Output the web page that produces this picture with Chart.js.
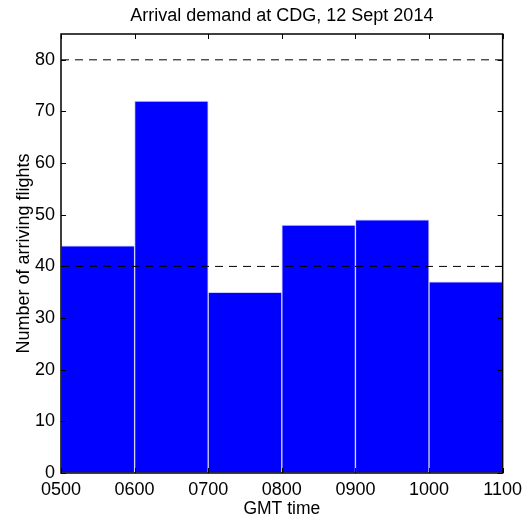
<!DOCTYPE html>
<html>
<head>
<meta charset="utf-8">
<script src="https://cdn.jsdelivr.net/npm/chart.js@4/dist/chart.umd.min.js"></script>
<style>
  body { margin: 0; background: #fff; }
</style>
</head>
<body>
<canvas id="chart" width="528" height="522"></canvas>
<script>
// hourly bins, GMT
const binStarts = [500, 600, 700, 800, 900, 1000]
const binSize = 100
const arrivals = [44, 72, 35, 48, 49, 37]
const capacityLevels = [40, 80]
const xTicks = [500, 600, 700, 800, 900, 1000, 1100]
const yTicks = [0, 10, 20, 30, 40, 50, 60, 70, 80]

const fontFamily = '"Liberation Sans", Arial, Helvetica, sans-serif'

const barData = binStarts.map((s, i) => ({ x: s + binSize / 2, y: arrivals[i] }))
const levelSets = capacityLevels.map(v => ({
    type: 'line',
    order: 0,
    data: [{ x: xTicks[0], y: v }, { x: xTicks[xTicks.length - 1], y: v }],
    borderColor: '#000',
    borderWidth: 1,
    borderDash: [8, 6],
    pointRadius: 0,
    fill: false
}))

// box round the plot with inward ticks, matlab style
const framePlugin = {
    id: 'frame',
    afterDraw(chart) {
        const ctx = chart.ctx
        const a = chart.chartArea
        const sx = chart.scales.x, sy = chart.scales.y
        ctx.save()
        ctx.strokeStyle = '#000'
        ctx.lineWidth = 1.5
        ctx.strokeRect(a.left, a.top, a.right - a.left, a.bottom - a.top)
        ctx.lineWidth = 1
        ctx.beginPath()
        xTicks.forEach(v => {
            const px = Math.round(sx.getPixelForValue(v)) + 0.5
            ctx.moveTo(px, a.bottom); ctx.lineTo(px, a.bottom - 5)
            ctx.moveTo(px, a.top); ctx.lineTo(px, a.top + 5)
        })
        yTicks.forEach(v => {
            const py = Math.round(sy.getPixelForValue(v)) + 0.5
            ctx.moveTo(a.left, py); ctx.lineTo(a.left + 5, py)
            ctx.moveTo(a.right, py); ctx.lineTo(a.right - 5, py)
        })
        ctx.stroke()
        ctx.restore()
    }
}

new Chart(document.getElementById('chart').getContext('2d'), {
    type: 'bar',
    data: {
        datasets: [{
            type: 'bar',
            order: 1,
            data: barData,
            backgroundColor: '#0000ff',
            borderColor: '#d0d0ff',
            borderWidth: 1,
            borderSkipped: false,
            barPercentage: 1,
            categoryPercentage: 1
        }].concat(levelSets)
    },
    options: {
        responsive: false,
        animation: false,
        layout: { padding: { right: 25, top: 0, bottom: 0, left: 0 } },
        plugins: { legend: { display: false }, tooltip: { enabled: false } },
        scales: {
            x: {
                type: 'linear',
                position: 'bottom',
                offset: false,
                min: 500,
                max: 1100,
                afterBuildTicks: s => { s.ticks = xTicks.map(v => ({ value: v })) },
                afterFit: s => { s.height = 49 },
                grid: { display: false, drawTicks: false },
                border: { display: false },
                ticks: {
                    color: '#000',
                    padding: 6,
                    maxRotation: 0,
                    autoSkip: false,
                    font: { family: fontFamily, size: 18 },
                    callback: v => String(v).padStart(4, '0')
                },
                title: {
                    display: true,
                    text: 'GMT time',
                    color: '#000',
                    padding: { top: 0, bottom: 2.5 },
                    font: { family: fontFamily, size: 17.5 }
                }
            },
            xTop: {
                type: 'linear',
                position: 'top',
                offset: false,
                min: 500,
                max: 1100,
                afterFit: s => { s.height = 34 },
                grid: { display: false, drawTicks: false },
                border: { display: false },
                ticks: { display: false },
                title: {
                    display: true,
                    text: 'Arrival demand at CDG, 12 Sept 2014',
                    color: '#000',
                    padding: { top: 5, bottom: 0 },
                    font: { family: fontFamily, size: 18 }
                }
            },
            y: {
                min: 0,
                max: 85,
                afterBuildTicks: s => { s.ticks = yTicks.map(v => ({ value: v })) },
                afterFit: s => { s.width = 61 },
                grid: { display: false, drawTicks: false },
                border: { display: false },
                ticks: {
                    color: '#000',
                    padding: 6,
                    font: { family: fontFamily, size: 18 }
                },
                title: {
                    display: true,
                    text: 'Number of arriving flights',
                    color: '#000',
                    padding: { top: 13, bottom: 0 },
                    font: { family: fontFamily, size: 18 }
                }
            }
        }
    },
    plugins: [framePlugin]
})
</script>
</body>
</html>
